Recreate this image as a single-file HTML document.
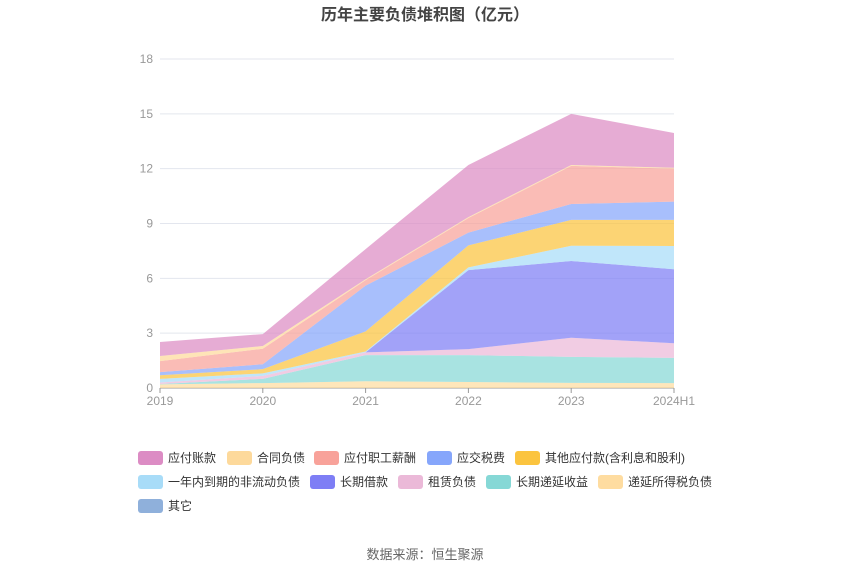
<!DOCTYPE html>
<html><head><meta charset="utf-8"><style>
body{margin:0;background:#fff;font-family:"Liberation Sans","Noto Sans CJK SC",sans-serif;}
#wrap{position:relative;width:850px;height:575px;overflow:hidden}
</style></head><body>
<div id="wrap">
<svg id="chart" width="850" height="575" xmlns="http://www.w3.org/2000/svg">
<text x="425" y="20" text-anchor="middle" font-size="16" font-weight="bold" fill="#444">历年主要负债堆积图（亿元）</text>
<g id="grid"></g><g id="areas"></g><g id="axis"></g><g id="legend"></g>
<text x="425" y="559" text-anchor="middle" font-size="13" fill="#666">数据来源：恒生聚源</text>
</svg>
</div>
<script>
const categories=["2019","2020","2021","2022","2023","2024H1"];
const yTicks=[0,3,6,9,12,15,18];
const seriesNames=["应付账款","合同负债","应付职工薪酬","应交税费","其他应付款(含利息和股利)","一年内到期的非流动负债","长期借款","租赁负债","长期递延收益","递延所得税负债","其它"];
const colors=["#dc8cc4","#fdd99b","#f8a29a","#86a6fb","#fbc43f","#a8dcf8","#7e7ef5","#ebb9d8","#86d8d6","#fedca0","#8fb0db"];
const sYingfu=[0.77,0.65,1.65,2.85,2.8,1.9];
const sHetong=[0.28,0.15,0.05,0.05,0.05,0.05];
const sZhigong=[0.6,0.85,0.3,0.8,2.08,1.8];
const sShuifei=[0.17,0.27,2.5,0.7,0.87,1.0];
const sQita=[0.2,0.23,1.1,1.2,1.42,1.43];
const sYinian=[0.2,0.14,0.05,0.15,0.83,1.27];
const sJiekuan=[0,0,0,4.32,4.2,4.05];
const sZulin=[0.08,0.16,0.15,0.33,1.05,0.8];
const sDiyan=[0.02,0.23,1.43,1.47,1.42,1.38];
const sSuode=[0.2,0.27,0.37,0.33,0.28,0.27];
const sOther=[0,0,0,0,0,0];
const seriesData=[sYingfu,sHetong,sZhigong,sShuifei,sQita,sYinian,sJiekuan,sZulin,sDiyan,sSuode,sOther];
const NS="http://www.w3.org/2000/svg";
const x0=160,x1=674,yb=388,yt=59,ymax=18;
const xs=i=>x0+(x1-x0)*i/(categories.length-1);
const ys=v=>yb-(yb-yt)*v/ymax;
function mk(t,a,p){const e=document.createElementNS(NS,t);for(const k in a)e.setAttribute(k,a[k]);p.appendChild(e);return e;}
const grid=document.getElementById('grid'),axis=document.getElementById('axis'),areas=document.getElementById('areas'),legend=document.getElementById('legend');
yTicks.forEach(t=>{
 const l=mk('line',{x1:x0,x2:x1,y1:ys(t),y2:ys(t),stroke:t===0?'#999':'#e3e6ee','stroke-width':1},grid);
 
 
 const tx=mk('text',{x:153,y:ys(t)+4,'text-anchor':'end','font-size':12,fill:'#999'},axis);tx.textContent=t;
 
 
});
categories.forEach((c,i)=>{
 const tk=mk('line',{x1:xs(i),x2:xs(i),y1:yb,y2:yb+5,stroke:'#999'},axis);
 
 
 const tx=mk('text',{x:xs(i),y:yb+17,'text-anchor':'middle','font-size':12,fill:'#999'},axis);tx.textContent=c;
 
 
});
// stack bottom-up: reverse legend order
let base=categories.map(()=>0);
for(let s=seriesData.length-1;s>=0;s--){
 const d=seriesData[s];const top=base.map((b,i)=>b+d[i]);
 let pts=top.map((v,i)=>xs(i)+','+ys(v));
 for(let i=base.length-1;i>=0;i--)pts.push(xs(i)+','+ys(base[i]));
 const p=mk('polygon',{points:pts.join(' '),fill:colors[s],'fill-opacity':0.72,stroke:'none'},areas);
 
 
 base=top;
}
const legPos=[[138,458],[227,458],[314,458],[427,458],[515,458],[138,482],[310,482],[398,482],[486,482],[598,482],[138,506]];
seriesNames.forEach((n,i)=>{
 const g=mk('g',{},legend);
 
 
 mk('rect',{x:legPos[i][0],y:legPos[i][1]-7,width:25,height:14,rx:3,fill:colors[i]},g);
 const t=mk('text',{x:legPos[i][0]+30,y:legPos[i][1]+4,'font-size':12,fill:'#333'},g);t.textContent=n;
});
</script>
</body></html>
